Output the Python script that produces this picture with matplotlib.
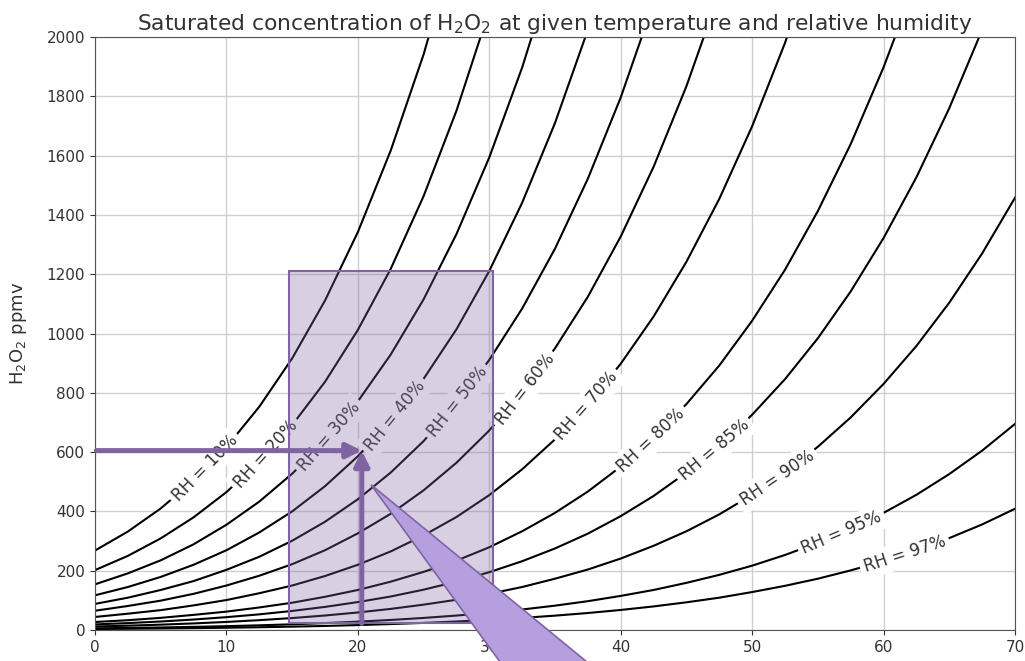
import numpy as np
import matplotlib
matplotlib.use('Agg')
import matplotlib.pyplot as plt
from matplotlib.patches import Rectangle, Polygon

# temperature in celsius, concentration in ppmv
temps = [0, 2.5, 5, 7.5, 10, 12.5, 15, 17.5, 20, 22.5, 25, 27.5, 30, 32.5, 35,
         37.5, 40, 42.5, 45, 47.5, 50, 52.5, 55, 57.5, 60, 62.5, 65, 67.5, 70]

rh10 = [268, 332, 410, 504, 617, 753, 916, 1111, 1342, 1617, 1941, 2324]
rh20 = [202, 250, 309, 380, 465, 568, 691, 837, 1012, 1218, 1463, 1751, 2090]
rh30 = [154, 191, 235, 289, 355, 433, 527, 638, 771, 929, 1115, 1335, 1594, 1897, 2251]
rh40 = [117, 145, 179, 220, 269, 329, 400, 485, 586, 706, 847, 1014, 1211, 1441, 1710,
        2024]
rh50 = [88, 109, 135, 165, 203, 247, 301, 365, 441, 531, 637, 763, 911, 1084, 1286,
        1522, 1796, 2115]
rh60 = [65, 81, 99, 122, 150, 183, 222, 269, 326, 392, 471, 564, 673, 801, 950,
        1124, 1327, 1562, 1834, 2148]
rh70 = [44, 55, 67, 83, 101, 124, 150, 182, 220, 265, 319, 381, 455, 542, 643,
        761, 898, 1057, 1242, 1454, 1699, 1980, 2303]
rh80 = [27, 33, 41, 51, 62, 76, 92, 112, 135, 163, 196, 234, 279, 333, 395,
        467, 551, 649, 762, 892, 1043, 1215, 1413, 1639, 1898, 2192]
rh85 = [18.8, 23.3, 28.7, 35.3, 43.3, 52.8, 64.3, 77.9, 94.2, 113, 136, 163, 195, 232, 275,
        325, 384, 452, 531, 621, 726, 846, 984, 1142, 1322, 1527, 1760, 2024, 2323]
rh90 = [11.8, 14.6, 18.0, 22.2, 27.2, 33.2, 40.3, 48.9, 59.1, 71.2, 85.5, 102, 122, 145, 173,
        204, 241, 284, 333, 390, 456, 531, 618, 717, 830, 958, 1104, 1270, 1458]
rh95 = [5.6, 7.0, 8.6, 10.6, 12.9, 15.8, 19.2, 23.3, 28.1, 33.9, 40.7, 48.7, 58.2, 69.2, 82.1,
        97.2, 115, 135, 159, 186, 217, 253, 294, 341, 395, 456, 526, 605, 695]
rh97 = [3.3, 4.1, 5.1, 6.2, 7.6, 9.3, 11.3, 13.7, 16.6, 20.0, 24.0, 28.7, 34.3, 40.8, 48.4,
        57.3, 67.6, 79.5, 93.4, 109, 128, 149, 173, 201, 233, 269, 310, 356, 409]

curves = [rh10, rh20, rh30, rh40, rh50, rh60, rh70, rh80, rh85, rh90, rh95, rh97]
labels = ['RH = 10%', 'RH = 20%', 'RH = 30%', 'RH = 40%', 'RH = 50%', 'RH = 60%',
          'RH = 70%', 'RH = 80%', 'RH = 85%', 'RH = 90%', 'RH = 95%', 'RH = 97%']
# where along each curve the label sits (temperature)
label_t = [8.4, 13.0, 17.8, 22.8, 27.6, 32.7, 37.4, 42.3, 47.1, 51.9, 56.8, 61.6]

purple = '#8064a2'

fig = plt.figure(figsize=(10.25, 6.61), dpi=100)
ax = fig.add_axes([95 / 1025, 31 / 661, 920 / 1025, 593 / 661])

ax.set_xlim(0, 70)
ax.set_ylim(0, 2000)
ax.set_xticks(range(0, 71, 10))
ax.set_yticks(range(0, 2001, 200))
ax.tick_params(labelsize=11, colors='#333333')
for s in ax.spines.values():
    s.set_color('#555555')
ax.grid(True, color='#cfcfcf', lw=1)
ax.set_axisbelow(True)

for vals in curves:
    ax.plot(temps[:len(vals)], vals, color='black', lw=1.5, zorder=2)

# inline labels, rotated along the curve
for vals, lab, t in zip(curves, labels, label_t):
    tt = temps[:len(vals)]
    y = np.interp(t, tt, vals)
    p1 = ax.transData.transform((t - 0.6, np.interp(t - 0.6, tt, vals)))
    p2 = ax.transData.transform((t + 0.6, np.interp(t + 0.6, tt, vals)))
    ang = np.degrees(np.arctan2(p2[1] - p1[1], p2[0] - p1[0]))
    ax.text(t, y, lab, rotation=ang, rotation_mode='anchor', ha='center', va='center',
            fontsize=12, color='#333333', zorder=3,
            bbox=dict(boxstyle='square,pad=0.25', fc='white', ec='none'))

# highlighted region
ax.add_patch(Rectangle((14.75, 22), 15.55, 1190, facecolor=(0.502, 0.392, 0.635, 0.3),
                       edgecolor=purple, lw=1.5, zorder=4))

# reading arrows
arrow_style = dict(arrowstyle='-|>,head_length=0.9,head_width=0.45', color=purple, lw=3.6,
                   shrinkA=0, shrinkB=0)
ax.annotate('', xy=(20.3, 605), xytext=(0.1, 605), arrowprops=arrow_style, zorder=5)
ax.annotate('', xy=(20.3, 605), xytext=(20.3, 22), arrowprops=arrow_style, zorder=5)

# callout pointer
ax.add_patch(Polygon([(21.0, 490), (31.1, -125), (37.9, -125)], closed=True,
                     facecolor='#b69fde', edgecolor=purple, lw=1.2, clip_on=False, zorder=6))

ax.set_ylabel('H$_2$O$_2$ ppmv', fontsize=13, color='#333333', labelpad=13)
ax.set_title('Saturated concentration of H$_2$O$_2$ at given temperature and relative humidity',
             fontsize=15.7, color='#333333', pad=5)

fig.savefig('out.png', dpi=100)
